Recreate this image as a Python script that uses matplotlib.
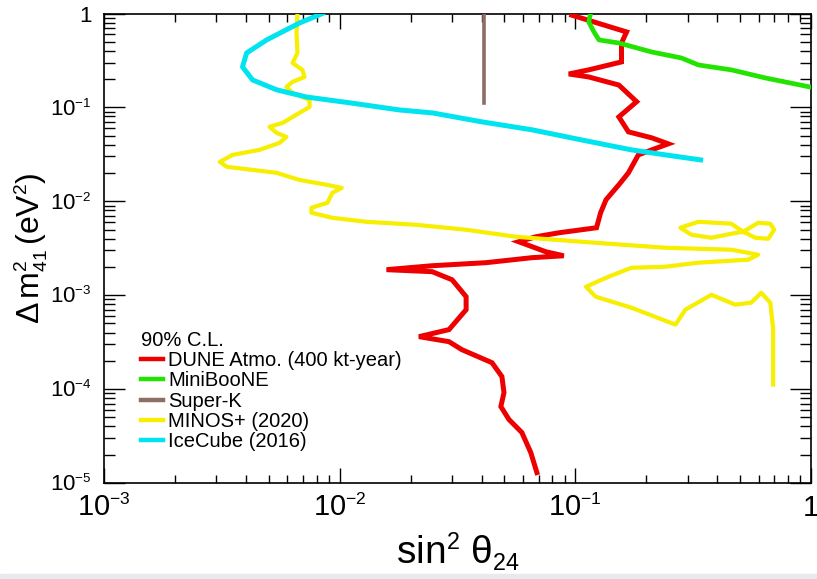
import numpy as np
import matplotlib
matplotlib.use("Agg")
import matplotlib.pyplot as plt
from matplotlib.ticker import FixedLocator, LogLocator, NullFormatter
try:
    import matplotlib._mathtext as _mt
    _mt.SHRINK_FACTOR = 0.6
except Exception:
    pass

plt.rcParams['font.family'] = ['Liberation Sans', 'DejaVu Sans']
plt.rcParams['mathtext.fontset'] = 'custom'
plt.rcParams['mathtext.rm'] = 'Liberation Sans'
plt.rcParams['mathtext.it'] = 'Liberation Sans:italic'
plt.rcParams['mathtext.bf'] = 'Liberation Sans:bold'

# ---------------- data (sin^2 theta24, Delta m^2_41 [eV^2]) ----------------
dune_x = [0.0966, 0.165, 0.157, 0.157, 0.114, 0.0938, 0.114, 0.153, 0.182, 0.153,
          0.168, 0.211, 0.248, 0.211, 0.185, 0.168, 0.153, 0.135, 0.128, 0.123,
          0.0851, 0.0680, 0.0575, 0.0750, 0.0893, 0.0655, 0.0418, 0.0247, 0.0158,
          0.0247, 0.0300, 0.0344, 0.0344, 0.0291, 0.0217, 0.0291, 0.0330, 0.0443,
          0.0488, 0.0498, 0.0483, 0.0523, 0.0593, 0.0647, 0.0687]
dune_y = [0.96, 0.636, 0.485, 0.305, 0.251, 0.227, 0.211, 0.173, 0.115, 0.0792,
          0.0549, 0.0474, 0.0409, 0.0353, 0.0312, 0.0201, 0.0150, 0.0104, 0.00755,
          0.00523, 0.00462, 0.00419, 0.00371, 0.00290, 0.00263, 0.00251, 0.00222,
          0.00206, 0.00187, 0.00178, 0.00146, 0.000964, 0.000701, 0.000430,
          0.000362, 0.000320, 0.000263, 0.000191, 0.000136, 0.0000918, 0.0000652,
          0.0000474, 0.0000345, 0.0000211, 0.0000129]

miniboone_x = [0.116, 0.114, 0.120, 0.126, 0.153, 0.211, 0.282, 0.333, 0.459, 0.640, 0.99]
miniboone_y = [1.0, 0.812, 0.636, 0.523, 0.485, 0.389, 0.336, 0.283, 0.251, 0.206, 0.165]

superk_x = [0.0409, 0.0409]
superk_y = [1.0, 0.112]

minos_x = [0.00662, 0.00656, 0.00662, 0.00631, 0.00695, 0.00709, 0.00631, 0.00594,
           0.00631, 0.00745, 0.00745, 0.00675, 0.00573, 0.00504, 0.00540, 0.00594,
           0.00556, 0.00457, 0.00351, 0.00310, 0.00332, 0.00427, 0.00540, 0.00675,
           0.00879, 0.0102, 0.00931, 0.00887, 0.00759, 0.00759, 0.00931, 0.0130,
           0.0211, 0.0344, 0.0560, 0.106, 0.241, 0.459, 0.597, 0.542, 0.333, 0.241,
           0.173, 0.138, 0.111, 0.122, 0.173, 0.266, 0.293, 0.378, 0.477, 0.557,
           0.615, 0.672, 0.691, 0.691]
minos_y = [1.0, 0.621, 0.380, 0.297, 0.251, 0.211, 0.187, 0.165, 0.143, 0.120,
           0.101, 0.0874, 0.0684, 0.0621, 0.0535, 0.0485, 0.0419, 0.0353, 0.0312,
           0.0263, 0.0233, 0.0216, 0.0201, 0.0169, 0.0150, 0.0139, 0.0123, 0.00964,
           0.00853, 0.00755, 0.00667, 0.00605, 0.00562, 0.00498, 0.00419, 0.00371,
           0.00320, 0.00305, 0.00270, 0.00239, 0.00222, 0.00201, 0.00196, 0.00157,
           0.00123, 0.000964, 0.000736, 0.000486, 0.000701, 0.00101, 0.000793,
           0.000832, 0.00106, 0.000832, 0.000430, 0.000112]

minos_loop_x = [0.516, 0.459, 0.333, 0.279, 0.311, 0.378, 0.459, 0.516, 0.597,
                0.672, 0.698, 0.658, 0.580, 0.516]
minos_loop_y = [0.00474, 0.00577, 0.00605, 0.00523, 0.00440, 0.00409, 0.00451,
                0.00474, 0.00591, 0.00577, 0.00498, 0.00399, 0.00409, 0.00474]

icecube_x = [0.00845, 0.00675, 0.00490, 0.00403, 0.00387, 0.00427, 0.00540, 0.00723,
             0.0110, 0.0179, 0.0247, 0.0402, 0.0655, 0.106, 0.173, 0.241, 0.340]
icecube_y = [1.0, 0.792, 0.523, 0.380, 0.270, 0.196, 0.154, 0.129, 0.112, 0.0940,
             0.0874, 0.0701, 0.0577, 0.0451, 0.0353, 0.0312, 0.0276]

labels = ["DUNE Atmo. (400 kt-year)", "MiniBooNE", "Super-K", "MINOS+ (2020)", "IceCube (2016)"]
x_ticks = [1e-3, 1e-2, 1e-1, 1.0]
x_ticklabels = [r"$\mathregular{10^{-3}}$", r"$\mathregular{10^{-2}}$", r"$\mathregular{10^{-1}}$", "1"]
y_ticks = [1e-5, 1e-4, 1e-3, 1e-2, 1e-1, 1.0]
y_ticklabels = [r"$\mathregular{10^{-5}}$", r"$\mathregular{10^{-4}}$", r"$\mathregular{10^{-3}}$",
                r"$\mathregular{10^{-2}}$", r"$\mathregular{10^{-1}}$", "1"]

c_red = '#ee0000'
c_green = '#22e400'
c_brown = '#8c6e64'
c_yellow = '#f7ee00'
c_cyan = '#00e4f0'

# ---------------- figure ----------------
W, H = 817, 579
fig = plt.figure(figsize=(W / 100, H / 100), dpi=100)
ax = fig.add_axes([104 / W, 1 - 483 / H, (811 - 104) / W, (483 - 13.5) / H])

h_red, = ax.plot(dune_x, dune_y, color=c_red, lw=3.6, solid_joinstyle='miter', zorder=3)
h_yel, = ax.plot(minos_x, minos_y, color=c_yellow, lw=3.0, zorder=4)
ax.plot(minos_loop_x, minos_loop_y, color=c_yellow, lw=3.0, zorder=4)
h_cyan, = ax.plot(icecube_x, icecube_y, color=c_cyan, lw=3.6, zorder=5)
h_green, = ax.plot(miniboone_x, miniboone_y, color=c_green, lw=3.4, zorder=6)
h_brown, = ax.plot(superk_x, superk_y, color=c_brown, lw=2.6, zorder=6)

ax.set_xscale('log')
ax.set_yscale('log')
ax.set_xlim(1e-3, 1.0)
ax.set_ylim(1e-5, 1.0)

ax.xaxis.set_major_locator(FixedLocator(x_ticks))
ax.yaxis.set_major_locator(FixedLocator(y_ticks))
ax.set_xticklabels(x_ticklabels)
ax.set_yticklabels(y_ticklabels)
ax.xaxis.set_minor_locator(LogLocator(base=10, subs=np.arange(2, 10)))
ax.yaxis.set_minor_locator(LogLocator(base=10, subs=np.arange(2, 10)))
ax.xaxis.set_minor_formatter(NullFormatter())
ax.yaxis.set_minor_formatter(NullFormatter())

ax.tick_params(which='both', direction='in', top=True, right=True, width=1.0, colors='black')
ax.xaxis.set_tick_params(which='major', length=11, labelsize=21, pad=8)
ax.xaxis.set_tick_params(which='minor', length=6)
ax.yaxis.set_tick_params(which='major', length=15, labelsize=16, pad=9)
ax.yaxis.set_tick_params(which='minor', length=8)
for s in ax.spines.values():
    s.set_linewidth(1.2)

fig.text(458 / W, 1 - 552 / H, r"$\mathregular{sin^{2}\ \theta_{24}}$", fontsize=28,
         ha='center', va='center')
fig.text(31 / W, 1 - 248 / H, r"$\mathregular{\Delta\,m^{2}_{41}\,(eV^{2})}$", fontsize=23,
         rotation=90, ha='center', va='center')

leg = ax.legend([h_red, h_green, h_brown, h_yel, h_cyan], labels,
                title="90% C.L.", alignment='left', frameon=False,
                loc='upper left', bbox_to_anchor=(141 / W, 1 - 331 / H),
                bbox_transform=fig.transFigure, fontsize=14.5, title_fontsize=14.5,
                handlelength=1.1, handletextpad=0.25, labelspacing=0.06,
                borderpad=0, borderaxespad=0)
for ln in leg.get_lines():
    ln.set_linewidth(3.2)

# bottom strip of the screenshot
fig.patches.append(plt.Rectangle((0, 0), 1, 5 / H, transform=fig.transFigure,
                                 color='#e6eaee', zorder=0))

fig.savefig("out.png", dpi=100)
